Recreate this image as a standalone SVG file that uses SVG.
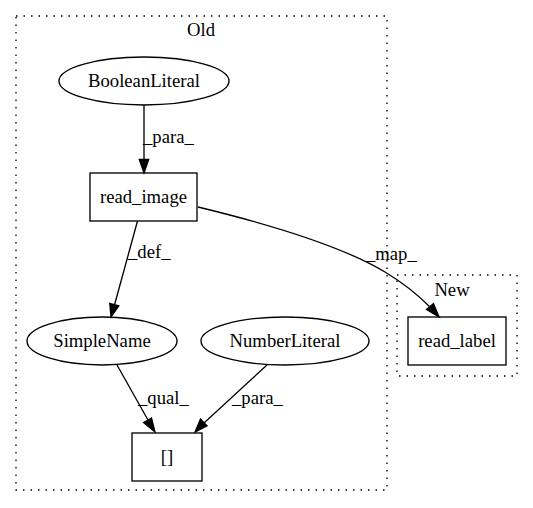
<svg xmlns="http://www.w3.org/2000/svg" width="533" height="508" viewBox="0 0 533 508">
<style>
text{font-family:"Liberation Serif","Times New Roman",serif;font-size:18.67px;fill:#000}
.c{fill:none;stroke:#000;stroke-width:1.33;stroke-dasharray:1.5,6}
.n{fill:none;stroke:#000;stroke-width:1.33}
.e{fill:none;stroke:#000;stroke-width:1.33}
.a{fill:#000;stroke:#000;stroke-width:1.33}
</style>
<rect width="533" height="508" fill="#fff"/>
<g id="cluster_old">
<rect class="c" x="16" y="16" width="371" height="474"/>
<text x="201" y="36" text-anchor="middle">Old</text>
</g>
<g id="cluster_new">
<rect class="c" x="397" y="275" width="120" height="101"/>
<text x="452" y="296" text-anchor="middle">New</text>
</g>
<g id="BooleanLiteral">
<ellipse class="n" cx="144" cy="81" rx="85" ry="24"/>
<text x="144" y="87" text-anchor="middle">BooleanLiteral</text>
</g>
<g id="read_image">
<rect class="n" x="90" y="173" width="107" height="48"/>
<text x="143.5" y="203" text-anchor="middle">read_image</text>
</g>
<g id="SimpleName">
<ellipse class="n" cx="102" cy="341" rx="75" ry="24"/>
<text x="102" y="347" text-anchor="middle">SimpleName</text>
</g>
<g id="NumberLiteral">
<ellipse class="n" cx="285" cy="341" rx="84" ry="24"/>
<text x="285" y="347" text-anchor="middle">NumberLiteral</text>
</g>
<g id="index">
<rect class="n" x="132" y="433" width="70" height="48"/>
<text x="167" y="463" text-anchor="middle">[]</text>
</g>
<g id="read_label">
<rect class="n" x="408" y="317" width="98" height="48"/>
<text x="457" y="347" text-anchor="middle">read_label</text>
</g>
<g id="edges">
<path class="e" d="M144,105 L144,160"/>
<polygon class="a" points="139.3,159.5 144,173 148.7,159.5"/>
<text x="143" y="143">_para_</text>
<path class="e" d="M137.5,221 L114.5,305"/>
<polygon class="a" points="109.8,303.5 111,317 118.8,306"/>
<text x="128" y="258">_def_</text>
<path class="e" d="M198,207 C260,222 340,245 385,272 C405,284 420,297 430,307"/>
<polygon class="a" points="426.5,309.5 439,317 433.5,303.5"/>
<text x="366" y="260">_map_</text>
<path class="e" d="M117,365 L148,420"/>
<polygon class="a" points="143.5,422.5 155,432 151.5,418"/>
<text x="138" y="404">_qual_</text>
<path class="e" d="M267,365 L204,423"/>
<polygon class="a" points="200.5,419 195,432 207,425.8"/>
<text x="232" y="404">_para_</text>
</g>
</svg>
